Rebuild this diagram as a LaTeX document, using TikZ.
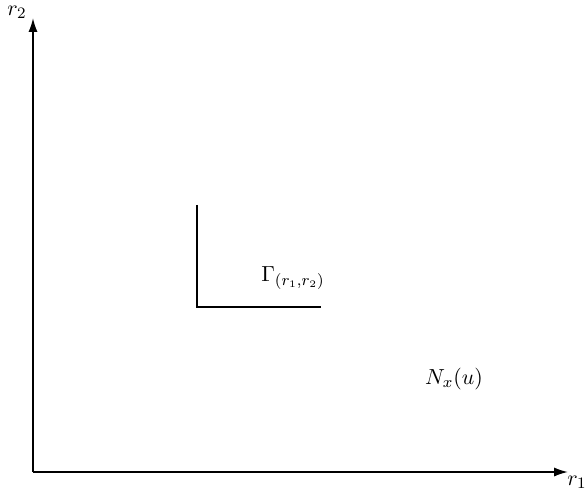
\documentclass[tikz,border=0pt]{standalone}
\usetikzlibrary{arrows.meta}

\tikzset{
  axis/.style={line width=0.9pt, -{Latex[length=7pt,width=4.6pt]}},
  corner/.style={line width=0.8pt},
  lbl/.style={inner sep=0pt, font=\fontsize{11}{13}\selectfont}
}

\begin{document}
\begin{tikzpicture}[x=0.5bp, y=-0.5bp]

  %–– Marco de la figura ––
  \useasboundingbox (0,0) rectangle (587,494);

  %–– Parámetros ––
  \def\xO{33}
  \def\yO{472}
  \def\gx{197}
  \def\gy{307}

  %–– Puntos de los ejes ––
  \coordinate (O) at (\xO,\yO);
  \coordinate (ytop) at (\xO,18);
  \coordinate (xend) at (568,\yO);

  %–– Ejes ––
  \draw[axis] (O) -- (ytop);
  \draw[axis] (O) -- (xend);
  \node[lbl] (rtwo) at (17,12) {$r_2$};
  \node[lbl] (rone) at (577,482) {$r_1$};

  %–– Esquina Gamma ––
  \coordinate (gtop) at (\gx,205);
  \coordinate (gcorner) at (\gx,\gy);
  \coordinate (gright) at (321,\gy);
  \draw[corner] (gtop) -- (gcorner) -- (gright);

  %–– Etiquetas ––
  \node[lbl] (gamma) at (293,278) {$\Gamma_{(r_1,r_2)}$};
  \node[lbl] (nxu) at (454,379) {$N_x(u)$};

\end{tikzpicture}
\end{document}
